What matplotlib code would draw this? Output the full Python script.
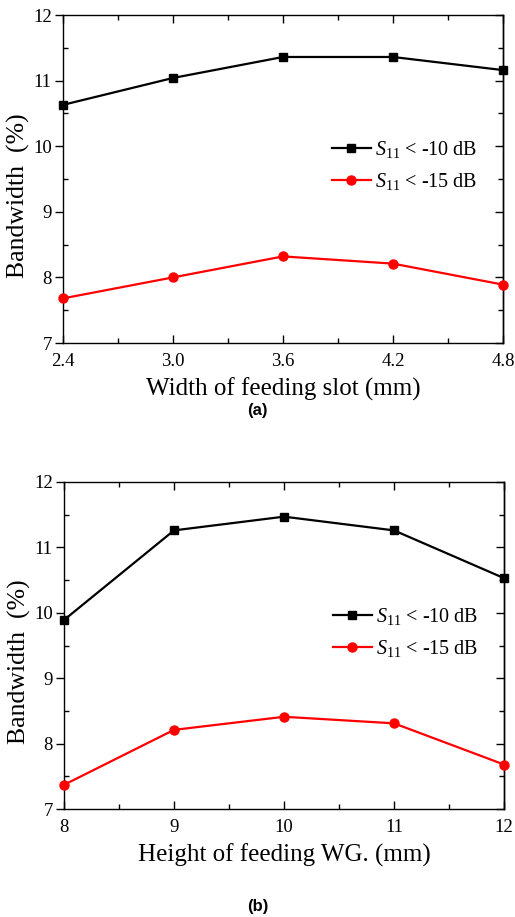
import matplotlib
matplotlib.use('Agg')
import matplotlib.pyplot as plt
from matplotlib.ticker import MultipleLocator

plt.rcParams['font.family'] = ['Liberation Serif', 'DejaVu Serif']
plt.rcParams['mathtext.fontset'] = 'custom'
plt.rcParams['mathtext.rm'] = 'Liberation Serif'
plt.rcParams['mathtext.it'] = 'Liberation Serif:italic'

# panel (a): width of feeding slot
slot_width = [2.4, 3.0, 3.6, 4.2, 4.8]
slot_ticklabels = ['2.4', '3.0', '3.6', '4.2', '4.8']
bw_a_10db = [10.63, 11.04, 11.36, 11.36, 11.16]
bw_a_15db = [7.68, 8.00, 8.32, 8.21, 7.89]

# panel (b): height of feeding WG
wg_height = [8, 9, 10, 11, 12]
wg_ticklabels = ['8', '9', '10', '11', '12']
bw_b_10db = [9.89, 11.26, 11.47, 11.26, 10.53]
bw_b_15db = [7.37, 8.21, 8.41, 8.31, 7.68]

legend_labels = ['$S_{11}$ < -10 dB', '$S_{11}$ < -15 dB']

fig = plt.figure(figsize=(5.15, 9.17), dpi=100)
W, H = 515.0, 917.0


def draw_panel(rect, x, y10, y15, xticklabels, xlabel, tag, tag_y, leg_y):
  ax = fig.add_axes([rect[0] / W, 1 - rect[3] / H, (rect[2] - rect[0]) / W, (rect[3] - rect[1]) / H])
  ax.plot(x, y10, color='black', marker='s', markersize=6, linewidth=1.6, label=legend_labels[0], clip_on=False, zorder=3)
  ax.plot(x, y15, color='red', marker='o', markersize=6.5, linewidth=1.6, label=legend_labels[1], clip_on=False, zorder=3)
  ax.set_xlim(x[0], x[-1])
  ax.set_ylim(7, 12)
  ax.set_xticks(x)
  ax.set_xticklabels(xticklabels)
  ax.xaxis.set_minor_locator(MultipleLocator((x[1] - x[0]) / 2))
  ax.yaxis.set_major_locator(MultipleLocator(1))
  ax.yaxis.set_minor_locator(MultipleLocator(0.5))
  ax.tick_params(which='both', direction='in', top=True, right=True, labelsize=13.5, width=1)
  ax.tick_params(which='major', length=6)
  ax.tick_params(which='minor', length=3.5)
  # left major ticks point outward
  ax.tick_params(axis='y', which='major', direction='out', right=False, length=6, pad=2)
  ax.tick_params(axis='x', pad=7)
  ax2 = ax.secondary_yaxis('right')
  ax2.yaxis.set_major_locator(MultipleLocator(1))
  ax2.tick_params(direction='in', length=6, width=1, labelright=False)
  ax2.spines['right'].set_linewidth(1)
  for s in ax.spines.values():
    s.set_linewidth(1)
  ax.set_xlabel(xlabel, fontsize=18, labelpad=6)
  ax.set_ylabel('Bandwidth  (%)', fontsize=18.5)
  ax.yaxis.set_label_coords(-0.075, 0.45)
  ax.legend(loc='center left', bbox_to_anchor=(0.612, leg_y), frameon=False, fontsize=14.5,
            handlelength=1.9, handletextpad=0.2, labelspacing=0.55, borderaxespad=0,
            borderpad=0)
  fig.text(0.5, 1 - tag_y / H, tag, ha='center', va='center', fontsize=12,
           fontweight='bold', family='Liberation Sans')
  return ax


draw_panel((63, 15, 503, 343), slot_width, bw_a_10db, bw_a_15db,
           slot_ticklabels, 'Width of feeding slot (mm)', '(a)', 410, 0.54)
draw_panel((64, 482, 504, 809), wg_height, bw_b_10db, bw_b_15db,
           wg_ticklabels, 'Height of feeding WG. (mm)', '(b)', 906, 0.54)

fig.savefig('out.png', dpi=100)
